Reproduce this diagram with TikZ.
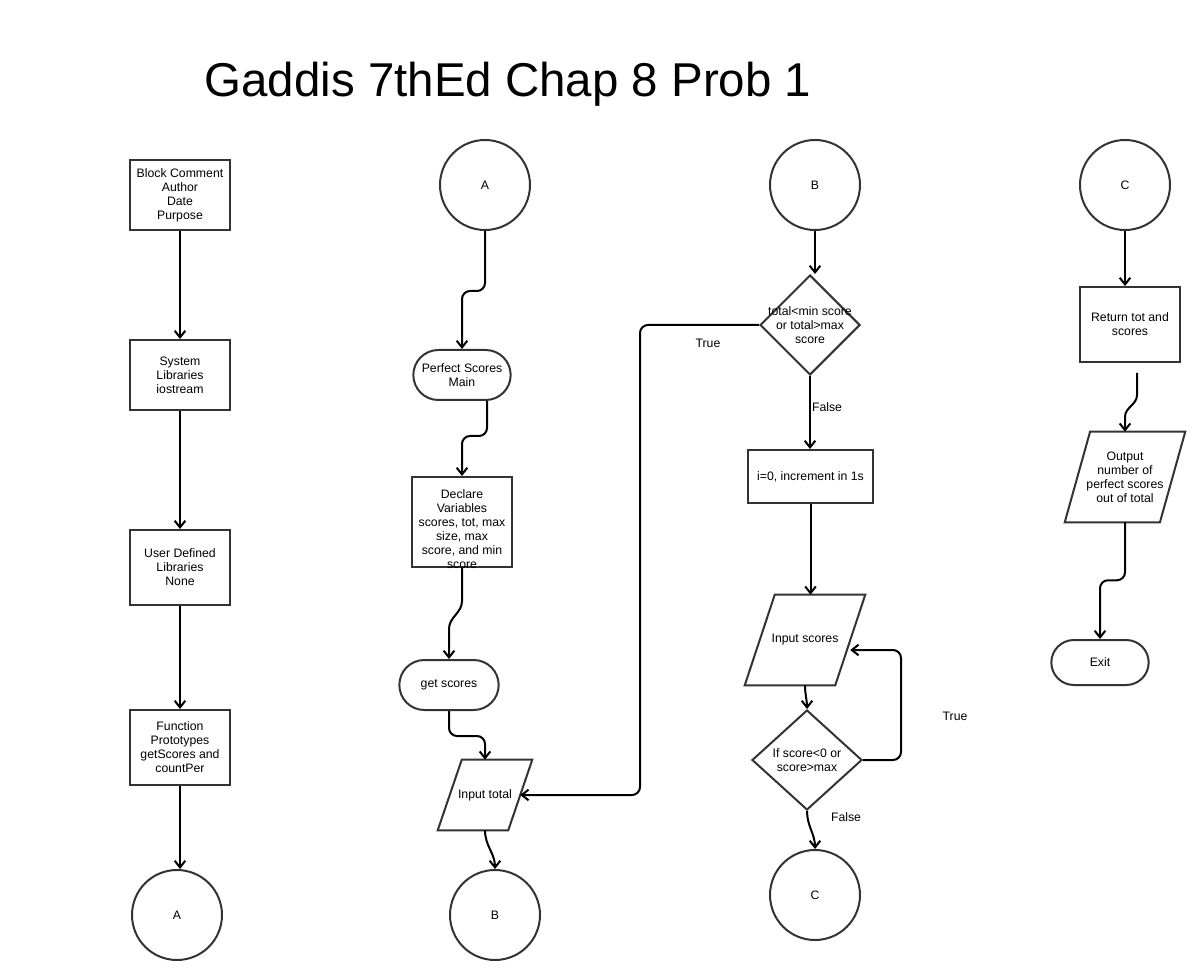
\documentclass[tikz,border=0pt]{standalone}
\usepackage{fontspec}
\setmainfont{Liberation Sans}
\usetikzlibrary{shapes.geometric,shapes.misc,arrows.meta,calc}
\begin{document}
\begin{tikzpicture}[x=0.75pt,y=-0.75pt,
  txt/.style={font=\fontsize{9.2}{10.5}\selectfont, align=center},
  shp/.style={txt, draw=black!80, line width=1.5pt, fill=white, inner sep=1pt},
  box/.style={shp, rectangle, minimum width=75pt, minimum height=52.5pt},
  term/.style={shp, rounded rectangle, minimum width=75pt, minimum height=37.5pt},
  conn/.style={shp, circle, minimum size=67.5pt, inner sep=0pt},
  dia/.style={shp, diamond, inner sep=0pt, minimum width=75pt, minimum height=75pt},
  iobox/.style={txt, rectangle, inner sep=0pt},
  para/.style={draw=black!80, line width=1.5pt, fill=white},
  arr/.style={-{Straight Barb[length=5pt,width=8pt]}, line width=1.5pt, black, rounded corners=6pt},
  curv/.style={-{Straight Barb[length=5pt,width=8pt]}, line width=1.5pt, black},
  lbl/.style={txt}
]
\useasboundingbox (0,0) rectangle (1200,980);
\fill[white] (0,0) rectangle (1200,980);

% title
\node[font=\fontsize{35.6}{40}\selectfont, anchor=base] (title) at (508,97) {Gaddis 7thEd Chap 8 Prob 1};

% ---------- column 1
\node[box] (b1) at (180,195) {Block Comment\\Author\\Date\\Purpose};
\node[box] (b2) at (180,375) {System\\Libraries\\iostream};
\node[box, minimum height=56.25pt] (b3) at (180,567.5) {User Defined\\Libraries\\None};
\node[box, minimum height=56.25pt] (b4) at (180,747.5) {Function\\Prototypes\\getScores and\\countPer};
\node[conn] (a1) at (177,915) {A};
\draw[arr] (b1.south) -- (b2.north);
\draw[arr] (b2.south) -- (b3.north);
\draw[arr] (b3.south) -- (b4.north);
\draw[arr] (b4.south) -- (b4.south |- a1.north);

% ---------- column 2
\node[conn] (a2) at (485,185) {A};
\node[term] (perf) at (462,375) {Perfect Scores\\Main};
\node[box, minimum height=67.5pt, inner sep=0pt,
  label={[txt,yshift=-5pt]center:{Declare\\Variables\\scores, tot, max\\size, max\\score, and min\\score}}] (dec) at (462,522) {};
\node[term, minimum width=76.5pt] (gs) at (449,685) {get scores};
\node[iobox, minimum width=70.5pt, minimum height=52.5pt] (it) at (485,795) {};
\draw[para] ([xshift=18pt]it.north west) -- (it.north east) -- ([xshift=-18pt]it.south east) -- (it.south west) -- cycle;
\node[txt] at (it.center) {Input total};
\node[conn] (bb) at (495,915) {B};

\draw[arr] (a2.south) -- ++(0,60) -| (perf.north);
\draw[arr] ([xshift=18.75pt]perf.south) -- ++(0,35) -| (dec.north);
\draw[curv] (dec.south) -- ++(0,33) to[out=-90,in=90] ($(gs.north)+(0,-30)$) -- (gs.north);
\draw[arr] (gs.south) -- ++(0,25) -| (it.north);
\draw[curv] (it.south) to[out=-90,in=90] (bb.north);

% ---------- column 3
\node[conn] (b3c) at (815,185) {B};
\node[dia, label={[txt]center:{total<min score\\or total>max\\score}}] (d1) at (810,325) {};
\node[box, minimum width=93.75pt, minimum height=39.75pt] (init) at (810.5,476.5) {i=0, increment in 1s};
\node[iobox, minimum width=90pt, minimum height=67.5pt] (is) at (805,640) {};
\draw[para] ([xshift=22.5pt]is.north west) -- (is.north east) -- ([xshift=-22.5pt]is.south east) -- (is.south west) -- cycle;
\node[txt] at (is.center) {Input scores};
\node[dia, minimum width=82.5pt, label={[txt]center:{If score<0 or\\score>max}}] (d2) at (807,760) {};
\node[conn] (c3) at (815,895) {C};

\draw[arr] (b3c.south) -- (b3c.south |- d1.north);
\draw[arr] (d1.south) -- (d1.south |- init.north);
\node[lbl] (fl1) at (827,407) {False};
\draw[arr] (d1.west) -- (640,325) |- ([xshift=-9pt]it.east);
\node[lbl] (tl1) at (708,343) {True};
\draw[arr] (init.south) -- (init.south |- is.north);
\draw[curv] (is.south) to[out=-90,in=90] (d2.north);
\coordinate (isr) at ($(is.east)+(-15,10)$);
\draw[arr] (d2.east) -- ++(38,0) |- (isr);
\node[lbl] (tl2) at (955,716) {True};
\draw[curv] (d2.south) to[out=-90,in=90] (c3.north);
\node[lbl] (fl2) at (846,817) {False};

% ---------- column 4
\node[conn] (c4) at (1125,185) {C};
\node[box, minimum height=56.25pt] (ret) at (1130,324.5) {Return tot and\\scores};
\node[iobox, minimum width=90pt, minimum height=67.5pt] (out) at (1125,477) {};
\draw[para] ([xshift=19pt]out.north west) -- (out.north east) -- ([xshift=-19pt]out.south east) -- (out.south west) -- cycle;
\node[txt] at (out.center) {Output\\number of\\perfect scores\\out of total};
\node[term, minimum height=33.75pt] (exit) at (1100,662.5) {Exit};

\draw[arr] (c4.south) -- (c4.south |- ret.north);
\coordinate (rs) at ($(ret.south)+(7,10)$);
\draw[curv] (rs) -- ++(0,22) to[out=-90,in=90] ++(-12,22) -- (out.north);
\draw[arr] (out.south) -- ++(0,58) -| (exit.north);
\end{tikzpicture}
\end{document}
